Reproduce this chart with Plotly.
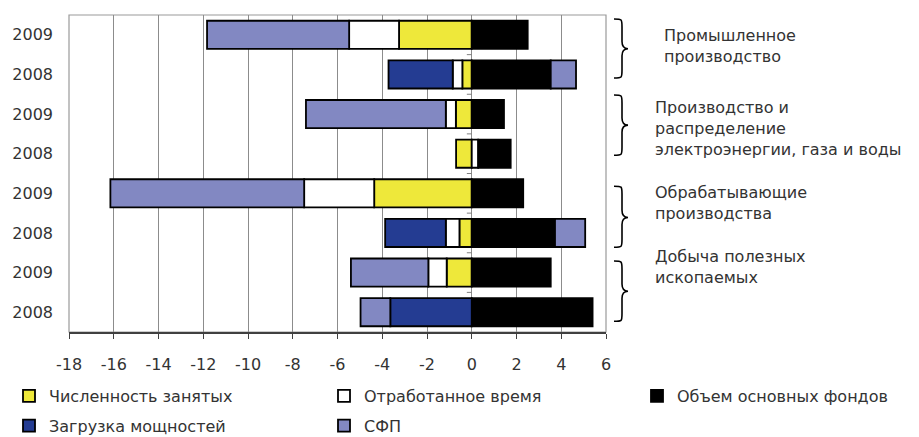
import plotly.graph_objects as go

# Contributions to output growth by factor, percentage points
years = ["2009", "2008", "2009", "2008", "2009", "2008", "2009", "2008"]
employment = [-3.25, -0.42, -0.71, -0.70, -4.36, -0.55, -1.12, None]
hours_worked = [-2.23, -0.43, -0.45, 0.29, -3.13, -0.61, -0.82, None]
fixed_assets = [2.50, 3.53, 1.44, 1.45, 2.30, 3.72, 3.53, 5.40]
capacity_use = [None, -2.87, None, None, None, -2.71, None, -3.64]
tfp = [-6.35, 1.13, -6.25, None, -8.66, 1.35, -3.46, -1.33]

series_names = ["Численность занятых", "Отработанное время",
                "Объем основных фондов", "Загрузка мощностей", "СФП"]
series_colors = ["#EEE83A", "#FFFFFF", "#000000", "#243C92", "#8288C2"]
series_legends = ["legend", "legend2", "legend3", "legend", "legend2"]

industries = ["Промышленное<br>производство",
              "Производство и<br>распределение<br>электроэнергии, газа и воды",
              "Обрабатывающие<br>производства",
              "Добыча полезных<br>ископаемых"]
industry_label_y = [6.73, 4.63, 2.75, 1.14]
industry_label_x = [1.104, 1.0875, 1.0875, 1.0875]
# vertical extent (top, bottom, tip) of each curly brace, in row units
brace_spans = [(7.40, 5.91, 6.65), (5.48, 3.96, 4.72), (3.18, 1.64, 2.39), (1.29, -0.23, 0.53)]

x_ticks = list(range(-18, 7, 2))
x_tick_labels = [str(v) for v in x_ticks]

# rows are drawn top to bottom
positions = list(range(len(years)))[::-1]

TEXT = "#333333"
FONT = "DejaVu Sans"

fig = go.Figure()
for name, vals, col, lg in zip(series_names,
                               [employment, hours_worked, fixed_assets, capacity_use, tfp],
                               series_colors, series_legends):
    fig.add_trace(go.Bar(
        y=positions, x=vals, orientation="h", name=name,
        marker=dict(color=col, line=dict(color="black", width=1.8)),
        legend=lg, legendgroup=name, hoverinfo="x+name",
    ))


def brace_path(top, bot, mid, x_hook=1.0149, x_stem=1.0298, x_tip=1.041, r=0.2):
    return (f"M{x_hook},{top} C{x_stem},{top} {x_stem},{top} {x_stem},{top - r} "
            f"L{x_stem},{mid + r * 0.9} C{x_stem},{mid + 0.05} {x_stem + 0.004},{mid} {x_tip},{mid} "
            f"C{x_stem + 0.004},{mid} {x_stem},{mid - 0.05} {x_stem},{mid - r * 0.9} "
            f"L{x_stem},{bot + r} C{x_stem},{bot} {x_stem},{bot} {x_hook},{bot}")


shapes = [dict(type="rect", xref="paper", yref="paper", x0=0, x1=1, y0=0, y1=1,
               line=dict(color="#9a9a9a", width=1.2), layer="below")]
# category tick marks on the x = 0 line, between rows
for p in positions[1:]:
    shapes.append(dict(type="line", xref="x", yref="y", x0=-0.22, x1=0,
                       y0=p + 0.5, y1=p + 0.5, line=dict(color="#808080", width=1)))
for top, bot, mid in brace_spans:
    shapes.append(dict(type="path", xref="paper", yref="y", path=brace_path(top, bot, mid),
                       line=dict(color="black", width=1.6)))

annotations = []
for txt, ly, lx in zip(industries, industry_label_y, industry_label_x):
    annotations.append(dict(text=txt, x=lx, y=ly, xref="paper", yref="y",
                            xanchor="left", yanchor="middle", align="left",
                            showarrow=False, font=dict(family=FONT, size=16, color=TEXT)))

legend_common = dict(xref="paper", yref="container", xanchor="left", yanchor="top",
                     orientation="v", tracegroupgap=6, bgcolor="rgba(0,0,0,0)",
                     font=dict(family=FONT, size=16, color=TEXT))
legend_top = 1 - 379 / 437

fig.update_layout(
    width=919, height=437,
    margin=dict(l=69, r=313, t=15, b=105, autoexpand=False),
    paper_bgcolor="white", plot_bgcolor="white",
    barmode="relative", bargap=0.29,
    font=dict(family=FONT, size=16, color=TEXT),
    xaxis=dict(range=[-18, 6], tickvals=x_ticks, ticktext=x_tick_labels,
               showgrid=True, gridcolor="#8c8c8c", gridwidth=1.2, zeroline=False,
               showline=True, linecolor="#404040", linewidth=2,
               ticks="outside", ticklen=5, tickcolor="#404040",
               ticklabelstandoff=12, tickfont=dict(family=FONT, size=16, color=TEXT)),
    yaxis=dict(range=[-0.5, 7.5], tickvals=positions, ticktext=years,
               showgrid=False, zeroline=False, showline=False, ticks="",
               ticklabelstandoff=15, tickfont=dict(family=FONT, size=16, color=TEXT)),
    legend=dict(x=(9 - 69) / 537, y=legend_top, **legend_common),
    legend2=dict(x=(324 - 69) / 537, y=legend_top, **legend_common),
    legend3=dict(x=(637 - 69) / 537, y=legend_top, **legend_common),
    shapes=shapes,
    annotations=annotations,
    showlegend=True,
)

fig.write_html("out.html")
